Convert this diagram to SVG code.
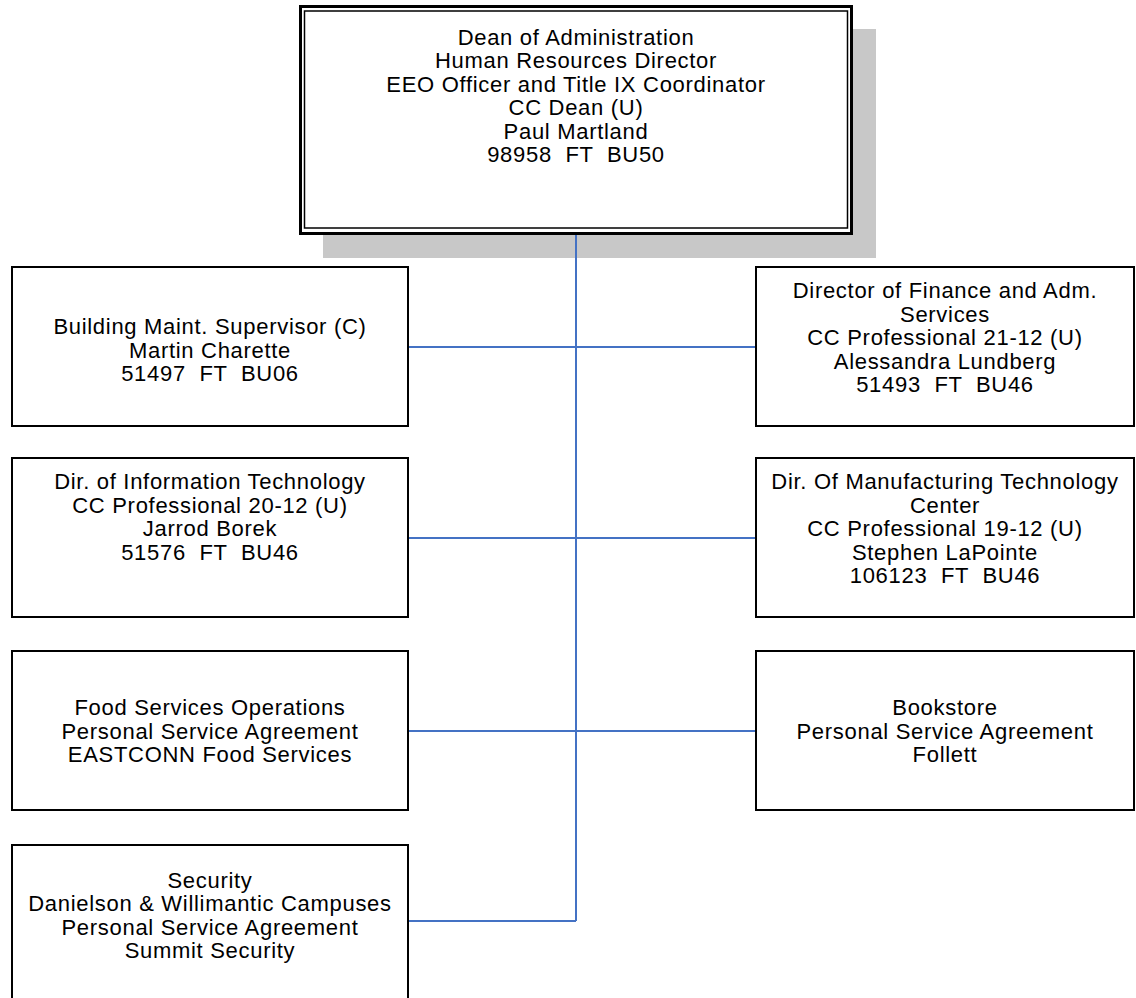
<svg xmlns="http://www.w3.org/2000/svg" width="1136" height="998" viewBox="0 0 1136 998">
  <style>
    .box { fill: #ffffff; stroke: #000000; stroke-width: 2; }
    .outer { fill: #ffffff; stroke: #000000; stroke-width: 3; }
    .inner { fill: none; stroke: #000000; stroke-width: 1.5; }
    .shadow { fill: #c8c8c8; }
    .wire { fill: none; stroke: #4472c4; stroke-width: 2; }
    text { font-family: "Liberation Sans", Arial, sans-serif; font-size: 22px; letter-spacing: 0.7px; fill: #000000; text-anchor: middle; white-space: pre; }
  </style>
  <rect width="1136" height="998" fill="#ffffff"/>

  <!-- head of the division -->
  <g id="dean">
    <rect class="shadow" x="323" y="29" width="553" height="229"/>
    <rect class="outer" x="300.5" y="6.5" width="551" height="227"/>
    <rect class="inner" x="304.5" y="11" width="543" height="217"/>
    <text x="576" y="44.5">Dean of Administration</text>
    <text x="576" y="68">Human Resources Director</text>
    <text x="576" y="91.5">EEO Officer and Title IX Coordinator</text>
    <text x="576" y="115">CC Dean (U)</text>
    <text x="576" y="138.5">Paul Martland</text>
    <text x="576" y="162" xml:space="preserve">98958  FT  BU50</text>
  </g>

  <g id="building-maint">
    <rect class="box" x="12" y="267" width="396" height="159"/>
    <text x="210" y="333.5">Building Maint. Supervisor (C)</text>
    <text x="210" y="357.5">Martin Charette</text>
    <text x="210" y="380.5" xml:space="preserve">51497  FT  BU06</text>
  </g>

  <g id="finance">
    <rect class="box" x="756" y="267" width="378" height="159"/>
    <text x="945" y="297.5">Director of Finance and Adm.</text>
    <text x="945" y="321.5">Services</text>
    <text x="945" y="344.5">CC Professional 21-12 (U)</text>
    <text x="945" y="368.5">Alessandra Lundberg</text>
    <text x="945" y="391.5" xml:space="preserve">51493  FT  BU46</text>
  </g>

  <g id="info-tech">
    <rect class="box" x="12" y="458" width="396" height="159"/>
    <text x="210" y="488.5">Dir. of Information Technology</text>
    <text x="210" y="512.5">CC Professional 20-12 (U)</text>
    <text x="210" y="535.5">Jarrod Borek</text>
    <text x="210" y="559.5" xml:space="preserve">51576  FT  BU46</text>
  </g>

  <g id="manufacturing">
    <rect class="box" x="756" y="458" width="378" height="159"/>
    <text x="945" y="488.5">Dir. Of Manufacturing Technology</text>
    <text x="945" y="512.5">Center</text>
    <text x="945" y="535.5">CC Professional 19-12 (U)</text>
    <text x="945" y="559.5">Stephen LaPointe</text>
    <text x="945" y="582.5" xml:space="preserve">106123  FT  BU46</text>
  </g>

  <g id="food-services">
    <rect class="box" x="12" y="651" width="396" height="159"/>
    <text x="210" y="714.5">Food Services Operations</text>
    <text x="210" y="738.5">Personal Service Agreement</text>
    <text x="210" y="761.5">EASTCONN Food Services</text>
  </g>

  <g id="bookstore">
    <rect class="box" x="756" y="651" width="378" height="159"/>
    <text x="945" y="714.5">Bookstore</text>
    <text x="945" y="738.5">Personal Service Agreement</text>
    <text x="945" y="761.5">Follett</text>
  </g>

  <g id="security">
    <rect class="box" x="12" y="845" width="396" height="170"/>
    <text x="210" y="887.5">Security</text>
    <text x="210" y="910.5">Danielson &amp; Willimantic Campuses</text>
    <text x="210" y="934.5">Personal Service Agreement</text>
    <text x="210" y="957.5">Summit Security</text>
  </g>

  <!-- reporting lines, drawn over the shadow -->
  <g id="connectors">
    <path class="wire" d="M576 235 V921"/>
    <path class="wire" d="M409 347 H755"/>
    <path class="wire" d="M409 538 H755"/>
    <path class="wire" d="M409 731 H755"/>
    <path class="wire" d="M409 921 H576"/>
  </g>
</svg>
